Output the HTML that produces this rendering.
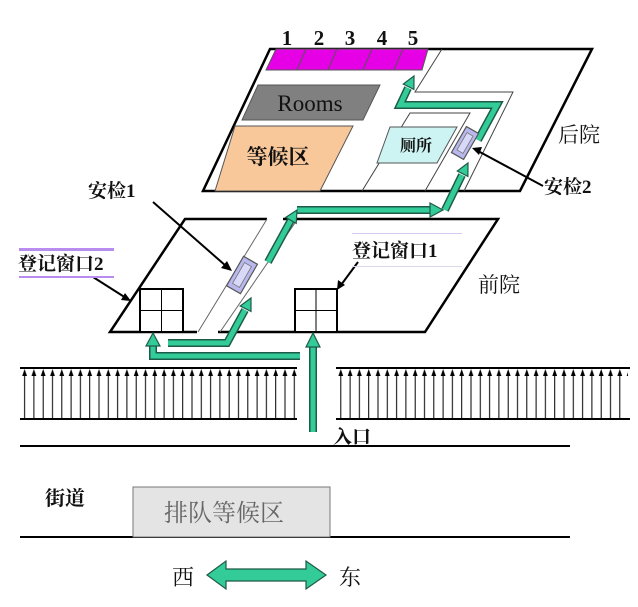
<!DOCTYPE html>
<html><head><meta charset="utf-8"><style>
html,body{margin:0;padding:0;background:#fff;}
svg{display:block;}
text{font-family:"Liberation Serif","Noto Serif CJK SC","Noto Sans CJK SC",serif;}
</style></head><body>
<svg width="638" height="607" viewBox="0 0 638 607" xmlns="http://www.w3.org/2000/svg">
<defs>
<pattern id="fence" x="20" y="0" width="9.3" height="607" patternUnits="userSpaceOnUse">
<line x1="4.6" y1="372" x2="4.6" y2="418" stroke="#000" stroke-width="1"/>
<polygon points="4.6,369 2.2,376 7,376" fill="#000"/>
</pattern>
</defs>
<rect width="638" height="607" fill="#fff"/>

<!-- back courtyard -->
<polygon points="270,49 592,49 520,191 203,191" fill="#fff" stroke="#000" stroke-width="2.5"/>
<polygon points="276,49 428,49 422,70 266,70" fill="#e600e6" stroke="#555" stroke-width="1"/>
<g stroke="#555" stroke-width="1">
<line x1="306" y1="49" x2="297" y2="70"/><line x1="337" y1="49" x2="328" y2="70"/>
<line x1="372" y1="49" x2="363" y2="70"/><line x1="403" y1="49" x2="394" y2="70"/>
</g>
<polygon points="258,85 380,85 363,120 242,120" fill="#808080" stroke="#555"/>
<text x="310" y="111" font-size="23" text-anchor="middle" fill="#111">Rooms</text>
<polygon points="235,126 353,126 320,191 215,191" fill="#f8c89a" stroke="#555"/>
<text x="278" y="164" font-size="21" font-weight="bold" text-anchor="middle" fill="#111">等候区</text>
<g stroke="#444" stroke-width="1" fill="none">
<polyline points="442,49 415,92 513,92 464,191"/>
<polyline points="362,191 410,113 470,113 425,191"/>
</g>
<polygon points="390,127 457,127 437,163 377,163" fill="#cdf3f3" stroke="#555"/>
<text x="416" y="151" font-size="16" font-weight="bold" text-anchor="middle" fill="#111">厕所</text>
<g font-size="21" font-weight="bold" fill="#111" text-anchor="middle">
<text x="287" y="45">1</text><text x="319" y="45">2</text><text x="350" y="45">3</text><text x="382" y="45">4</text><text x="413" y="45">5</text>
</g>
<text x="558" y="142" font-size="21" fill="#111">后院</text>

<!-- front courtyard -->
<g stroke="#000" stroke-width="2.5" fill="none">
<polyline points="267,219 185,219 110,332 197,332"/>
<polyline points="283,219 498,219 425,332 218,332"/>
</g>
<g stroke="#666" stroke-width="1">
<line x1="267" y1="219" x2="198" y2="332"/>
<line x1="297" y1="220" x2="220" y2="332"/>
</g>
<g stroke="#000" stroke-width="2" fill="#fff">
<rect x="140" y="289" width="43" height="43"/>
<rect x="295" y="289" width="42" height="43"/>
</g>
<g stroke="#000" stroke-width="1">
<line x1="161.5" y1="289" x2="161.5" y2="332"/><line x1="140" y1="310.5" x2="183" y2="310.5"/>
<line x1="316" y1="289" x2="316" y2="332"/><line x1="295" y1="310.5" x2="337" y2="310.5"/>
</g>
<text x="478" y="292" font-size="21" fill="#111">前院</text>

<!-- fence -->
<rect x="20" y="368" width="277" height="51" fill="url(#fence)"/>
<rect x="336" y="368" width="292" height="51" fill="url(#fence)"/>
<g stroke="#000" stroke-width="2">
<line x1="20" y1="368" x2="297" y2="368"/><line x1="20" y1="419" x2="297" y2="419"/>
<line x1="336" y1="368" x2="630" y2="368"/><line x1="336" y1="419" x2="630" y2="419"/>
<line x1="20" y1="446" x2="570" y2="446"/><line x1="20" y1="537" x2="570" y2="537"/>
</g>

<!-- green paths -->
<g fill="none" stroke-linejoin="miter" stroke-linecap="butt">
<g stroke="#1e5a48" stroke-width="8">
<polyline points="313,432 313,345"/>
<polyline points="300,356 153,356 153,345"/>
<polyline points="168,343 227,343 245,310"/>
<polyline points="268,262 291,220"/>
<polyline points="297,210 431,210"/>
<polyline points="445,210 462,175"/>
<polyline points="478,140 497,105 400,105 408,88"/>
</g>
<g stroke="#33cc99" stroke-width="5">
<polyline points="313,432 313,345"/>
<polyline points="300,356 153,356 153,345"/>
<polyline points="168,343 227,343 245,310"/>
<polyline points="268,262 291,220"/>
<polyline points="297,210 431,210"/>
<polyline points="445,210 462,175"/>
<polyline points="478,140 497,105 400,105 408,88"/>
</g>
</g>
<g fill="#33cc99" stroke="#1e5a48" stroke-width="1.2">
<polygon points="313,333 306,347 320,347"/>
<polygon points="153,333 146,346 160,346"/>
<polygon points="251,298 251,311.4 240.2,306"/>
<polygon points="297,210 296.2,223.4 285.8,217.4"/>
<polygon points="443,210 430,203 430,217"/>
<polygon points="468,163 467.9,176.4 457.3,171"/>
<polygon points="414,76 413.9,89.4 403.3,84"/>
</g>

<!-- security boxes -->
<g transform="translate(242,275) rotate(30)">
<rect x="-8" y="-17" width="16" height="34" fill="#b8b8ee" stroke="#555" stroke-width="1.2"/>
<rect x="-4" y="-12" width="8" height="24" fill="#d8d8f8" stroke="#777" stroke-width="0.8"/>
</g>
<g transform="translate(465,143) rotate(30)">
<rect x="-7" y="-15" width="14" height="30" fill="#b8b8ee" stroke="#555" stroke-width="1.2"/>
<rect x="-3.5" y="-10" width="7" height="20" fill="#d8d8f8" stroke="#777" stroke-width="0.8"/>
</g>

<!-- labels & leader arrows -->
<g stroke="#000" stroke-width="2">
<line x1="153" y1="202" x2="226" y2="266"/>
<line x1="93" y1="277" x2="126" y2="298"/>
<line x1="358" y1="262" x2="341" y2="285"/>
<line x1="543" y1="186" x2="478" y2="151"/>
</g>
<g fill="#000">
<polygon points="232,271 221,268 227,261"/>
<polygon points="131,301 121,300 125,293"/>
<polygon points="337,290 338,280 345,285"/>
<polygon points="472,148 482,147 479,155"/>
</g>
<text x="88" y="197" font-size="19" font-weight="bold" fill="#111">安检1</text>
<rect x="19" y="248" width="95" height="3" fill="#b98cf0"/>
<rect x="19" y="276" width="95" height="2" fill="#b98cf0"/>
<text x="18" y="270" font-size="19" font-weight="bold" fill="#111">登记窗口2</text>
<rect x="352" y="233" width="110" height="1" fill="#d8c8f4"/>
<rect x="352" y="266" width="110" height="1" fill="#d8d8e8"/>
<text x="352" y="257" font-size="19" font-weight="bold" fill="#111">登记窗口1</text>
<text x="544" y="193" font-size="19" font-weight="bold" fill="#111">安检2</text>
<text x="333" y="443" font-size="19" font-weight="bold" fill="#111">入口</text>

<!-- street -->
<text x="45" y="505" font-size="20" font-weight="bold" fill="#111">街道</text>
<rect x="133" y="487" width="197" height="50" fill="#e4e4e4" stroke="#777" stroke-width="1"/>
<text x="164" y="521" font-size="24" fill="#666">排队等候区</text>
<text x="172" y="585" font-size="22" fill="#111">西</text>
<polygon points="207,575 226,561 226,569 306,569 306,561 326,575 306,589 306,581 226,581 226,589" fill="#33cc99" stroke="#1e5a48" stroke-width="1.2"/>
<text x="339" y="585" font-size="22" fill="#111">东</text>
</svg>
</body></html>
